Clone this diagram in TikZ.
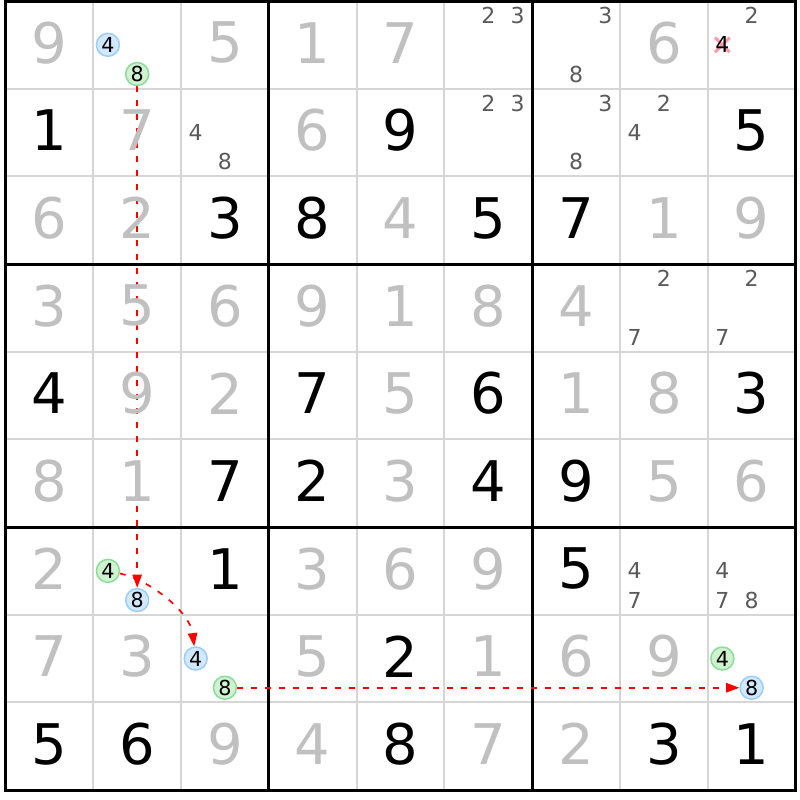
\documentclass[tikz,border=0pt]{standalone}
\usepackage{fontspec}
\setmainfont{DejaVu Sans}
\usetikzlibrary{arrows.meta}
\pgfdeclarelayer{gridlayer}
\pgfdeclarelayer{linklayer}
\pgfsetlayers{gridlayer,linklayer,main}
\definecolor{solvedc}{HTML}{C0C0C0}
\definecolor{candc}{HTML}{5A5A5A}
\definecolor{thinc}{HTML}{D6D6D6}
\definecolor{bluefill}{HTML}{D2E8FF}
\definecolor{bluedraw}{HTML}{99CCFF}
\definecolor{greenfill}{HTML}{CFF2CF}
\definecolor{greendraw}{HTML}{88DD99}
\definecolor{crossc}{HTML}{FF9AA8}
\definecolor{linkc}{HTML}{FF0000}
\begin{document}
\begin{tikzpicture}[x=0.75pt,y=-0.75pt,
  given/.style={inner sep=0pt, font=\fontsize{42}{42}\selectfont, text=black},
  solved/.style={given, text=solvedc},
  cand/.style={inner sep=0pt, font=\fontsize{16.5}{16.5}\selectfont, text=candc},
  bluec/.style={circle, inner sep=0pt, minimum size=17.25pt, fill=bluefill, draw=bluedraw, line width=1.1pt, font=\fontsize{15.5}{15.5}\selectfont, text=black},
  greenc/.style={bluec, fill=greenfill, draw=greendraw},
  link/.style={color=linkc, line width=1.25pt, dash pattern=on 4.5pt off 6pt, -{Triangle[length=10pt,width=7pt]}},
  thinline/.style={draw=thinc, line width=1.5pt},
  thickline/.style={draw=black, line width=2.25pt},
  crossline/.style={draw=crossc, line width=2.3pt},
]
\path[use as bounding box] (0,0) rectangle (800,800);

\begin{pgfonlayer}{gridlayer}
\fill[white] (0,0) rectangle (800,800);
\foreach \i in {1,2,4,5,7,8}{
  \draw[thinline] ({5.5+87.78*\i},1) -- ({5.5+87.78*\i},790);
  \draw[thinline] (5.5,{1+87.67*\i}) -- (795.5,{1+87.67*\i});
}
\foreach \i in {3,6}{
  \draw[thickline] ({5.5+87.78*\i},1) -- ({5.5+87.78*\i},790);
  \draw[thickline] (5.5,{1+87.67*\i}) -- (795.5,{1+87.67*\i});
}
\draw[thickline] (5.5,1) rectangle (795.5,790);
\end{pgfonlayer}

% given digits
\foreach \rr/\cc/\d in {2/1/1,2/5/9,2/9/5,3/3/3,3/4/8,3/6/5,3/7/7,5/1/4,5/4/7,5/6/6,5/9/3,6/3/7,6/4/2,6/6/4,6/7/9,7/3/1,7/7/5,8/5/2,9/1/5,9/2/6,9/5/8,9/8/3,9/9/1}{
  \node[given] (n\rr\cc) at ({5.5+87.78*(\cc-0.5)},{1+87.67*(\rr-0.5)-2}) {\d};
}
% solved digits
\foreach \rr/\cc/\d in {1/1/9,1/3/5,1/4/1,1/5/7,1/8/6,2/2/7,2/4/6,3/1/6,3/2/2,3/5/4,3/8/1,3/9/9,4/1/3,4/2/5,4/3/6,4/4/9,4/5/1,4/6/8,4/7/4,5/2/9,5/3/2,5/5/5,5/7/1,5/8/8,6/1/8,6/2/1,6/5/3,6/8/5,6/9/6,7/1/2,7/4/3,7/5/6,7/6/9,8/1/7,8/2/3,8/4/5,8/6/1,8/7/6,8/8/9,9/3/9,9/4/4,9/6/7,9/7/2}{
  \node[solved] (n\rr\cc) at ({5.5+87.78*(\cc-0.5)},{1+87.67*(\rr-0.5)-2}) {\d};
}
% candidates
\foreach \rr/\cc/\k in {1/6/2,1/6/3,1/7/3,1/7/8,1/9/2,2/3/4,2/3/8,2/6/2,2/6/3,2/7/3,2/7/8,2/8/2,2/8/4,4/8/2,4/8/7,4/9/2,4/9/7,7/8/4,7/8/7,7/9/4,7/9/7,7/9/8}{
  \pgfmathsetmacro\px{5.5+87.78*(\cc-1)+29.26*(mod(\k-1,3)+0.5)}
  \pgfmathsetmacro\py{1+87.67*(\rr-1)+29.22*(floor((\k-1)/3)+0.5)}
  \node[cand] (c\rr\cc\k) at (\px,\py) {\k};
}
% eliminated candidate
\node[cand, text=black] (x194) at ({5.5+87.78*8+29.26*0.5},{1+29.22*1.5}) {4};
% circled candidates
\foreach \rr/\cc/\k/\s in {1/2/4/bluec,1/2/8/greenc,7/2/4/greenc,7/2/8/bluec,8/3/4/bluec,8/3/8/greenc,8/9/4/greenc,8/9/8/bluec}{
  \pgfmathsetmacro\px{5.5+87.78*(\cc-1)+29.26*(mod(\k-1,3)+0.5)}
  \pgfmathsetmacro\py{1+87.67*(\rr-1)+29.22*(floor((\k-1)/3)+0.5)}
  \node[\s] (s\rr\cc\k) at (\px,\py) {\k};
}

\begin{pgfonlayer}{linklayer}
\draw[crossline] ([xshift=-5.5pt,yshift=5.5pt]x194.center) -- ([xshift=5.5pt,yshift=-5.5pt]x194.center);
\draw[crossline] ([xshift=-5.5pt,yshift=-5.5pt]x194.center) -- ([xshift=5.5pt,yshift=5.5pt]x194.center);
\draw[link] (s128) -- (s728);
\draw[link] (s724) .. controls (150,580) and (190,612) .. (s834);
\draw[link] (s838) -- (s898);
\end{pgfonlayer}
\end{tikzpicture}
\end{document}
